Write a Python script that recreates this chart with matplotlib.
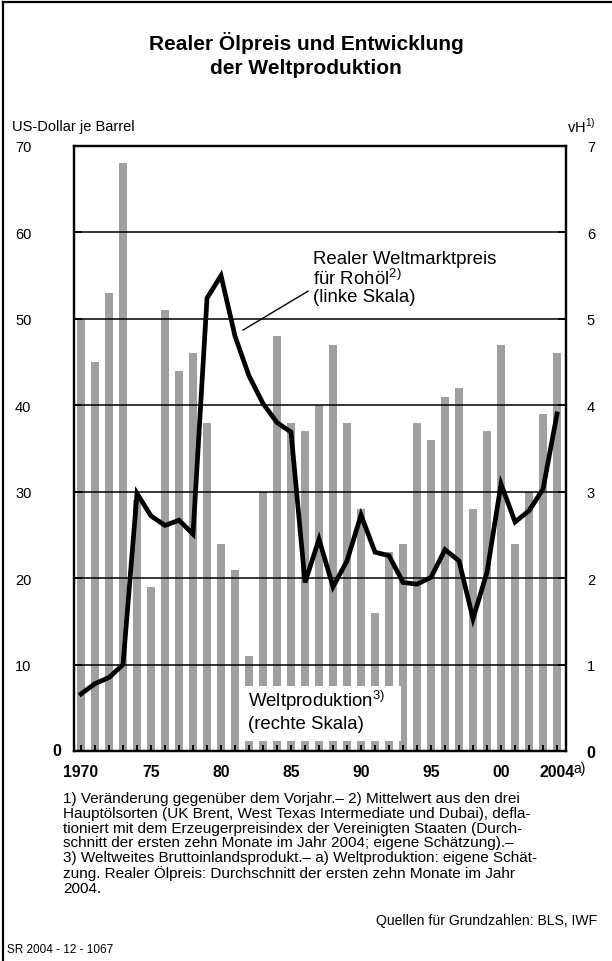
import matplotlib
matplotlib.use("Agg")
import matplotlib.pyplot as plt
from matplotlib.lines import Line2D
from matplotlib.patches import Rectangle

plt.rcParams["font.family"] = ["Liberation Sans", "DejaVu Sans"]
plt.rcParams["mathtext.fontset"] = "custom"
plt.rcParams["mathtext.rm"] = "Liberation Sans"

years = list(range(1970, 2005))
# Weltproduktion, Veraenderung gegenueber Vorjahr in vH (rechte Skala)
world_growth = [5.0, 4.5, 5.3, 6.8, 2.9, 1.9, 5.1, 4.4, 4.6, 3.8,
                2.4, 2.1, 1.1, 3.0, 4.8, 3.8, 3.7, 4.0, 4.7, 3.8,
                2.8, 1.6, 2.3, 2.4, 3.8, 3.6, 4.1, 4.2, 2.8, 3.7,
                4.7, 2.4, 3.0, 3.9, 4.6]
# Realer Weltmarktpreis fuer Rohoel, US-Dollar je Barrel (linke Skala)
oil_price = [6.6, 7.8, 8.5, 10.0, 29.8, 27.2, 26.1, 26.7, 25.1, 52.4,
             55.0, 48.0, 43.4, 40.2, 38.0, 36.9, 19.5, 24.5, 19.0, 22.0,
             27.3, 23.0, 22.6, 19.5, 19.3, 20.1, 23.3, 22.0, 15.3, 20.7,
             30.9, 26.5, 27.8, 30.3, 39.0]
left_ticks = [0, 10, 20, 30, 40, 50, 60, 70]
right_ticks = [0, 1, 2, 3, 4, 5, 6, 7]
year_labels = {1970: "1970", 1975: "75", 1980: "80", 1985: "85",
               1990: "90", 1995: "95", 2000: "00", 2004: "2004"}

footnote = (
    "1) Veränderung gegenüber dem Vorjahr.– 2) Mittelwert aus den drei\n"
    "Hauptölsorten (UK Brent, West Texas Intermediate und Dubai), defla-\n"
    "tioniert mit dem Erzeugerpreisindex der Vereinigten Staaten (Durch-\n"
    "schnitt der ersten zehn Monate im Jahr 2004; eigene Schätzung).–\n"
    "3) Weltweites Bruttoinlandsprodukt.– a) Weltproduktion: eigene Schät-\n"
    "zung. Realer Ölpreis: Durchschnitt der ersten zehn Monate im Jahr\n"
    "2004."
)

W, H = 612, 962
bar_grey = "#a0a0a0"


def fx(px):
    return px / W


def fy(py):
    return 1 - py / H


fig = plt.figure(figsize=(W / 100, H / 100), dpi=100)

# plot area in pixels: x 74..566, y 147..752
ax2 = fig.add_axes([fx(74), fy(752), (566 - 74) / W, (752 - 147) / H])
ax = ax2.twinx()
ax.set_zorder(ax2.get_zorder() + 1)
ax.patch.set_visible(False)

ax2.bar(years, world_growth, width=0.57, color=bar_grey, zorder=1)
ax2.set_ylim(0, 7)
ax2.set_xlim(1969.5, 2004.64)

# ax is the overlay: left scale goes on the left side
ax.yaxis.tick_left()
ax.yaxis.set_label_position("left")
ax2.yaxis.tick_right()
ax.set_ylim(0, 70)

for y in left_ticks[1:-1]:
    ax.axhline(y, color="black", linewidth=1.1, zorder=1)

ax.plot(years, oil_price, color="black", linewidth=3.4,
        solid_joinstyle="miter", zorder=3)

for sp in list(ax.spines.values()) + list(ax2.spines.values()):
    sp.set_linewidth(1.6)
    sp.set_color("black")

ax.set_yticks(left_ticks)
ax.set_yticklabels([""] + [str(v) for v in left_ticks[1:]])
ax.tick_params(axis="y", direction="in", length=6, width=1.4,
               labelsize=10.5, pad=42.5)
for lab in ax.get_yticklabels():
    lab.set_horizontalalignment("left")
ax.annotate("0", xy=(0, 0), xycoords="axes fraction", xytext=(-9.0, 0),
            textcoords="offset points", ha="right", va="center",
            fontsize=11.5, fontweight="bold")

ax2.set_yticks(right_ticks)
ax2.set_yticklabels([str(v) for v in right_ticks])
ax2.tick_params(axis="y", direction="in", length=6, width=1.4,
                labelsize=10.5, pad=15)
ax2.get_yticklabels()[0].set_fontweight("bold")
ax2.get_yticklabels()[0].set_fontsize(11.5)

ax2.set_xticks(years)
ax2.set_xticklabels([year_labels.get(y, "") for y in years],
                    fontweight="bold", fontsize=11.3)
ax2.tick_params(axis="x", direction="in", length=4, width=1.4, pad=9.5)
ax.tick_params(axis="x", which="both", length=0, labelbottom=False)
ax2.annotate("a)", xy=(2004, 0), xycoords="data", xytext=(12, -12),
             textcoords="offset points", ha="left", va="center",
             fontsize=10)

# white box behind the production label
ax.add_patch(Rectangle((1981.57, 1.16), 11.29, 6.36, facecolor="white",
                       edgecolor="none", zorder=2))
ax.text(1981.95, 6.0, r"Weltproduktion$^{\mathregular{3)}}$", fontsize=13.4,
        ha="left", va="center", zorder=4)
ax.text(1981.95, 3.2, "(rechte Skala)", fontsize=13.4, ha="left",
        va="center", zorder=4)

ax.text(1986.57, 58.0,
        "Realer Weltmarktpreis\nfür Rohöl$^{\\mathregular{2)}}$\n(linke Skala)",
        fontsize=13.4, ha="left", va="top", linespacing=1.02, zorder=4)
ax.plot([1981.57, 1986.21], [48.7, 53.2], color="black", linewidth=1.0,
        zorder=4)

# title and axis captions
fig.text(fx(306), fy(43), "Realer Ölpreis und Entwicklung", ha="center",
         va="center", fontsize=15, fontweight="bold")
fig.text(fx(306), fy(68), "der Weltproduktion", ha="center", va="center",
         fontsize=15, fontweight="bold")
fig.text(fx(12), fy(127), "US-Dollar je Barrel", ha="left", va="center",
         fontsize=10.5)
fig.text(fx(567), fy(126), r"vH$^{\mathregular{1)}}$", ha="left",
         va="center", fontsize=10.5)

fig.text(fx(63), fy(792), footnote, ha="left", va="top", fontsize=11,
         linespacing=1.075)
fig.text(fx(597), fy(921), "Quellen für Grundzahlen: BLS, IWF", ha="right",
         va="center", fontsize=10.1)
fig.text(fx(7), fy(950), "SR 2004 - 12 - 1067", ha="left", va="center",
         fontsize=8.5)

# frame: top and left rule
fig.add_artist(Line2D([fx(2.5), 1], [fy(3), fy(3)], color="black",
                      linewidth=1.6))
fig.add_artist(Line2D([fx(2.5), fx(2.5)], [fy(3), 0], color="black",
                      linewidth=1.6))

fig.savefig("out.png", dpi=100)
